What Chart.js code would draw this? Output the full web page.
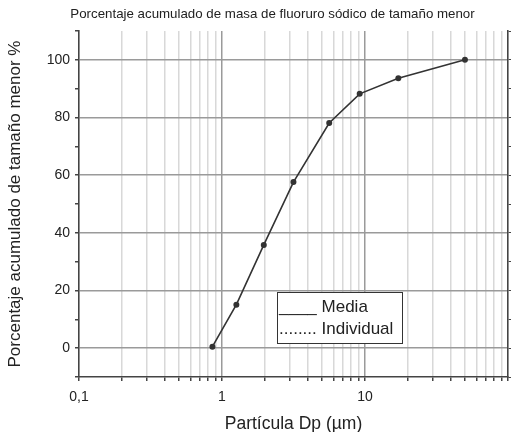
<!DOCTYPE html>
<html><head><meta charset="utf-8">
<script src="https://cdn.jsdelivr.net/npm/chart.js@4"></script>
<style>html,body{margin:0;padding:0;background:#fff}#wrap{width:516px;height:432px}</style>
</head><body><div id="wrap"><canvas id="c" width="516" height="432"></canvas></div>
<script>
// ---- data ----
const particleSizes = [0.857, 1.26, 1.96, 3.16, 5.62, 9.18, 17.1, 50];
const cumulativePercent = [0.5, 15.1, 35.8, 57.6, 78.1, 88.2, 93.6, 100];
const xDecades = [0.1, 1, 10];
const xMultipliers = [1, 2, 3, 4, 5, 6, 7, 8, 9];
const xTickLabels = { '0.1': '0,1', '1': '1', '10': '10' };
const yLabelValues = [0, 20, 40, 60, 80, 100];
const chartTitle = 'Porcentaje acumulado de masa de fluoruro sódico de tamaño menor';
const xTitle = 'Partícula Dp (µm)';
const yTitle = 'Porcentaje acumulado de tamaño menor %';
const legendLines = ['____ Media', '........ Individual'];

const FONT = '"Liberation Sans", Arial, sans-serif';
const xGridValues = [];
xDecades.forEach(d => xMultipliers.forEach(m => xGridValues.push(+(d * m).toPrecision(3))));
xGridValues.push(100);

const keyOf = v => String(+(+v).toPrecision(3));

const overlay = {
  id: 'overlay',
  afterDraw(chart) {
    const ctx = chart.ctx;
    ctx.save();
    // title
    ctx.fillStyle = '#222';
    ctx.font = '13.3px ' + FONT;
    ctx.textAlign = 'center';
    ctx.textBaseline = 'middle';
    ctx.fillText(chartTitle, 272.5, 14);
    // legend box
    ctx.fillStyle = '#fff';
    ctx.fillRect(277, 292, 126, 52);
    ctx.strokeStyle = '#333';
    ctx.lineWidth = 1;
    ctx.strokeRect(277.5, 292.5, 125, 51);
    ctx.fillStyle = '#222';
    ctx.font = '17px ' + FONT;
    ctx.textAlign = 'left';
    ctx.fillText(legendLines[0], 279, 307);
    ctx.fillText(legendLines[1], 279, 329);
    ctx.restore();
  }
};

new Chart(document.getElementById('c'), {
  type: 'line',
  data: {
    datasets: [{
      data: particleSizes.map((x, i) => ({ x, y: cumulativePercent[i] })),
      borderColor: '#333',
      borderWidth: 1.6,
      pointRadius: 2.2,
      pointBackgroundColor: '#333',
      pointBorderColor: '#333',
      tension: 0,
      yAxisID: 'y'
    }]
  },
  options: {
    responsive: false,
    animation: false,
    layout: { padding: { top: 31, left: 0, right: 0, bottom: 0 } },
    plugins: { legend: { display: false }, title: { display: false }, tooltip: { enabled: false } },
    scales: {
      x: {
        type: 'logarithmic',
        position: 'bottom',
        min: 0.1, max: 100,
        afterBuildTicks: s => { s.ticks = xGridValues.map(v => ({ value: v })); },
        afterFit: s => { s.height = 55; },
        ticks: {
          autoSkip: false, maxRotation: 0, padding: 8,
          color: '#222', font: { family: FONT, size: 14 },
          callback: v => xTickLabels[keyOf(v)] || ''
        },
        grid: {
          drawTicks: true, tickLength: 4, tickColor: '#444', lineWidth: 1.5,
          color: c => {
            const k = keyOf(c.tick.value);
            if (k === '0.1' || k === '100') return 'rgba(0,0,0,0)';
            if (k === '1' || k === '10') return '#9a9a9a';
            return '#d8d8d8';
          }
        },
        border: { display: true, color: '#444', width: 1.6 },
        title: { display: true, text: xTitle, color: '#222', font: { family: FONT, size: 17.5 }, padding: { top: 0, bottom: -3 } }
      },
      y: {
        position: 'left',
        min: -10, max: 110,
        afterFit: s => { s.width = 79; },
        ticks: {
          stepSize: 10, autoSkip: false, padding: 5,
          color: '#222', font: { family: FONT, size: 14 },
          callback: v => yLabelValues.includes(v) ? String(v) : ''
        },
        grid: {
          drawTicks: true, tickLength: 4, tickColor: '#444', lineWidth: 1.5,
          color: c => (yLabelValues.includes(c.tick.value) ? '#9a9a9a' : 'rgba(0,0,0,0)')
        },
        border: { display: true, color: '#444', width: 1.6 },
        title: { display: true, text: yTitle, color: '#222', font: { family: FONT, size: 17 }, padding: { top: 5, bottom: 0 } }
      },
      y2: {
        position: 'right',
        min: -10, max: 110,
        afterFit: s => { s.width = 4.3; },
        ticks: { display: false, stepSize: 10 },
        grid: { drawOnChartArea: false, drawTicks: true, tickLength: 3, tickColor: '#444' },
        border: { display: true, color: '#444', width: 1.6 }
      }
    }
  },
  plugins: [overlay]
});
</script>
</body></html>
